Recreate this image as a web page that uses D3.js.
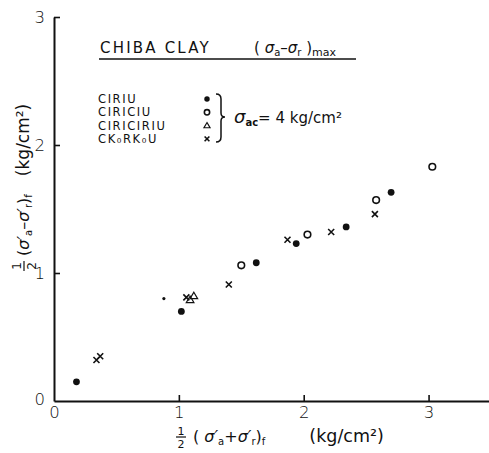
<!DOCTYPE html>
<html>
<head>
<meta charset="utf-8">
<script src="https://cdn.jsdelivr.net/npm/d3@7/dist/d3.min.js"></script>
<style>
  html, body { margin: 0; padding: 0; background: #fff; }
  svg { display: block; }
  text { font-family: "DejaVu Sans", sans-serif; fill: #111; }
</style>
</head>
<body>
<svg id="chart" width="489" height="453"></svg>
<script>
// Chiba clay: half deviator stress vs. half mean effective stress at failure (kg/cm2)
const xTicks = [0, 1, 2, 3];
const yTicks = [0, 1, 2, 3];

// CIRIU (filled circles)
const ciriu = [
  [0.18, 0.15], [1.02, 0.70], [1.62, 1.08], [1.94, 1.23], [2.34, 1.36], [2.70, 1.63]
];
// CIRICIU (open circles)
const ciriciu = [
  [1.50, 1.06], [2.03, 1.30], [2.58, 1.57], [3.03, 1.83]
];
// CIRICIRIU (triangles)
const ciriciriu = [
  [1.09, 0.79], [1.12, 0.82]
];
// CK0RK0U (crosses)
const ck0rk0u = [
  [0.34, 0.32], [0.37, 0.35], [1.06, 0.81], [1.40, 0.91], [1.87, 1.26], [2.22, 1.32], [2.57, 1.46]
];
// isolated small dot
const smallDots = [[0.88, 0.80]];

const legendLabels = ["CIRIU", "CIRICIU", "CIRICIRIU", "CK\u2080RK\u2080U"];
const legendSymbols = ["dot", "circle", "triangle", "cross"];

const svg = d3.select("#chart");
const ink = "#111";

const x = d3.scaleLinear().domain([0, 3.5]).range([54, 491]);
const y = d3.scaleLinear().domain([0, 3]).range([401, 17]);

// axes
const gx = svg.append("g").attr("transform", `translate(0,${y(0)})`)
  .call(d3.axisBottom(x).tickValues(xTicks).tickFormat(d3.format("d"))
    .tickSize(-6).tickSizeOuter(0).tickPadding(5));
const gy = svg.append("g").attr("transform", `translate(${x(0)},0)`)
  .call(d3.axisLeft(y).tickValues(yTicks).tickFormat(d3.format("d"))
    .tickSize(-6).tickSizeOuter(0).tickPadding(9));

[gx, gy].forEach(g => {
  g.select(".domain").attr("stroke", ink).attr("stroke-width", 2);
  g.selectAll(".tick line").attr("stroke", ink).attr("stroke-width", 1.6);
  g.selectAll(".tick text").attr("font-size", 16.5).attr("fill", ink)
    .style("font-family", "DejaVu Sans, sans-serif").attr("font-weight", 300);
});
gx.selectAll(".tick").filter(d => d === 0).select("line").remove();
gy.selectAll(".tick").filter(d => d === 0).select("line").remove();
gy.selectAll(".tick").filter(d => d === 0).select("text").attr("dy", "0.2em");

// symbol drawing
function drawSymbol(g, kind, cx, cy, s) {
  s = s || 1;
  if (kind === "dot") {
    g.append("circle").attr("cx", cx).attr("cy", cy).attr("r", 3.4 * s).attr("fill", ink);
  } else if (kind === "circle") {
    g.append("circle").attr("cx", cx).attr("cy", cy).attr("r", 3.3 * s)
      .attr("fill", "none").attr("stroke", ink).attr("stroke-width", 1.6);
  } else if (kind === "triangle") {
    const r = 3.8 * s;
    g.append("path")
      .attr("d", `M${cx},${cy - r}L${cx + r},${cy + r * 0.7}L${cx - r},${cy + r * 0.7}Z`)
      .attr("fill", "none").attr("stroke", ink).attr("stroke-width", 1.2);
  } else if (kind === "cross") {
    const r = 3 * s;
    g.append("path")
      .attr("d", `M${cx - r},${cy - r}L${cx + r},${cy + r}M${cx - r},${cy + r}L${cx + r},${cy - r}`)
      .attr("stroke", ink).attr("stroke-width", 1.6);
  }
}

const marks = svg.append("g");
[[ciriu, "dot"], [ciriciu, "circle"], [ciriciriu, "triangle"], [ck0rk0u, "cross"]]
  .forEach(([data, kind]) => data.forEach(d => drawSymbol(marks, kind, x(d[0]), y(d[1]))));
smallDots.forEach(d => marks.append("circle").attr("cx", x(d[0])).attr("cy", y(d[1]))
  .attr("r", 1.6).attr("fill", ink));

// title block
svg.append("text").attr("x", 100).attr("y", 53).attr("font-size", 15)
  .attr("letter-spacing", 2.2).text("CHIBA  CLAY");
const t2 = svg.append("text").attr("x", 254).attr("y", 53).attr("font-size", 15);
t2.append("tspan").text("( ");
t2.append("tspan").attr("font-style", "italic").text("\u03c3");
t2.append("tspan").attr("font-size", 10).attr("dy", 3).text("a");
t2.append("tspan").attr("dy", -3).text("\u2013");
t2.append("tspan").attr("font-style", "italic").text("\u03c3");
t2.append("tspan").attr("font-size", 10).attr("dy", 3).text("r");
t2.append("tspan").attr("dy", -3).text(" )");
t2.append("tspan").attr("font-size", 11).attr("dy", 3).text("max");
svg.append("line").attr("x1", 99).attr("x2", 356).attr("y1", 59).attr("y2", 59)
  .attr("stroke", ink).attr("stroke-width", 1.6);

// legend
const lg = svg.append("g");
legendLabels.forEach((lab, i) => {
  const yy = 103 + i * 13.3;
  lg.append("text").attr("x", 98).attr("y", yy).attr("font-size", 11.5)
    .attr("letter-spacing", 1.6).text(lab);
  drawSymbol(lg, legendSymbols[i], 207, yy - 4, 0.8);
});
// brace
lg.append("path")
  .attr("d", "M216,94 Q221,94 221,99 L221,113 Q221,117 225,117 Q221,117 221,121 L221,137 Q221,142 216,142")
  .attr("fill", "none").attr("stroke", ink).attr("stroke-width", 1.5);
const st = lg.append("text").attr("x", 234).attr("y", 123).attr("font-size", 15);
st.append("tspan").attr("font-style", "italic").attr("font-size", 18).text("\u03c3");
st.append("tspan").attr("font-size", 10).attr("dy", 3).attr("font-weight", "bold").text("ac");
st.append("tspan").attr("dy", -3).text("= 4 kg/cm\u00b2");

// x axis title
const xl = svg.append("g").attr("transform", "translate(181,437)");
xl.append("text").attr("x", 0).attr("y", -2).attr("font-size", 11).attr("text-anchor", "middle").text("1");
xl.append("line").attr("x1", -5).attr("x2", 5).attr("y1", 0).attr("y2", 0).attr("stroke", ink).attr("stroke-width", 1.2);
xl.append("text").attr("x", 0).attr("y", 11).attr("font-size", 11).attr("text-anchor", "middle").text("2");
const xt = xl.append("text").attr("x", 12).attr("y", 5).attr("font-size", 16);
xt.append("tspan").text("(  ");
xt.append("tspan").attr("font-style", "italic").text("\u03c3\u2032");
xt.append("tspan").attr("font-size", 10).attr("dy", 3).text("a");
xt.append("tspan").attr("dy", -3).text("+");
xt.append("tspan").attr("font-style", "italic").text("\u03c3\u2032");
xt.append("tspan").attr("font-size", 10).attr("dy", 3).text("r");
xt.append("tspan").attr("dy", -3).text(")");
xt.append("tspan").attr("font-size", 10).attr("dy", 3).text("f");
xt.append("tspan").attr("dy", -3).attr("dx", 44).attr("font-size", 17.5).text("(kg/cm\u00b2)");

// y axis title (rotated)
const yl = svg.append("g").attr("transform", "translate(24,266) rotate(-90)");
yl.append("text").attr("x", 0).attr("y", -3).attr("font-size", 12).attr("text-anchor", "middle").text("1");
yl.append("line").attr("x1", -5).attr("x2", 5).attr("y1", 0).attr("y2", 0).attr("stroke", ink).attr("stroke-width", 1.2);
yl.append("text").attr("x", 0).attr("y", 12).attr("font-size", 12).attr("text-anchor", "middle").text("2");
const yt = yl.append("text").attr("x", 10).attr("y", 5).attr("font-size", 16);
yt.append("tspan").text("(");
yt.append("tspan").attr("font-style", "italic").text("\u03c3\u2032");
yt.append("tspan").attr("font-size", 10).attr("dy", 3).text("a");
yt.append("tspan").attr("dy", -3).text("\u2013");
yt.append("tspan").attr("font-style", "italic").text("\u03c3\u2032");
yt.append("tspan").attr("font-size", 10).attr("dy", 3).text("r");
yt.append("tspan").attr("dy", -3).text(")");
yt.append("tspan").attr("font-size", 10).attr("dy", 3).text("f");
yt.append("tspan").attr("dy", -3).attr("dx", 18).attr("font-size", 17).text("(kg/cm\u00b2)");
</script>
</body>
</html>
